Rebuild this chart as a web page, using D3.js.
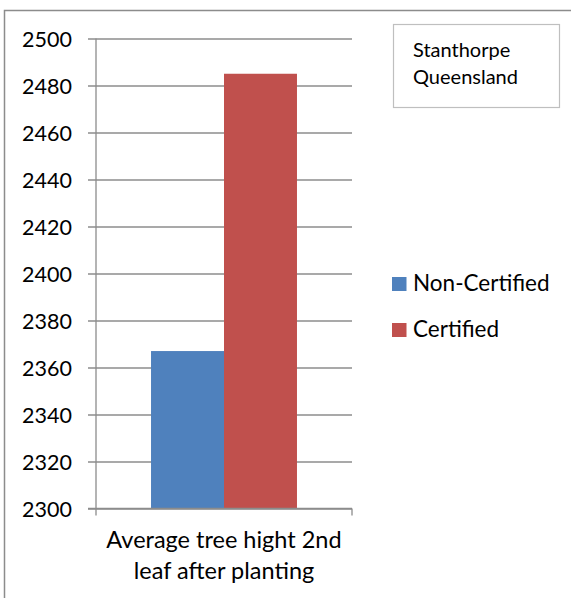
<!DOCTYPE html>
<html><head><meta charset="utf-8">
<script src="https://cdn.jsdelivr.net/npm/d3@7"></script>
<style>body{margin:0;background:#fff;} svg{display:block;font-family:Lato, "Open Sans", sans-serif;}</style>
</head><body>
<svg id="c" width="571" height="598"></svg>
<script>
const categories = ["Average tree hight 2nd leaf after planting"];
const categoryLines = ["Average tree hight 2nd", "leaf after planting"];
const seriesNames = ["Non-Certified", "Certified"];
const nonCertified = [2367];
const certified = [2485];
const yTicks = [2300, 2320, 2340, 2360, 2380, 2400, 2420, 2440, 2460, 2480, 2500];
const colors = ["#4F81BD", "#C0504D"];
const noteLines = ["Stanthorpe", "Queensland"];

const svg = d3.select("#c");
// outer chart border
svg.append("rect").attr("x",4.5).attr("y",10.5).attr("width",600).attr("height",600)
  .attr("fill","none").attr("stroke","#8c8c8c").attr("stroke-width",1.5);

const x0 = 96, x1 = 352;
const y = d3.scaleLinear().domain([2300, 2500]).range([508.5, 38.5]);
const xb = d3.scaleBand().domain(categories).range([x0, x1]).paddingInner(0).paddingOuter(0.377);
const xs = d3.scaleBand().domain(seriesNames).range([0, xb.bandwidth()]);

// gridlines + y axis via d3 axis
const yAxis = d3.axisLeft(y).tickValues(yTicks).tickFormat(d3.format("d")).tickSize(-(x1 - x0)).tickPadding(24);
const gy = svg.append("g").attr("transform", `translate(${x0},0)`).call(yAxis);
gy.select(".domain").remove();
gy.selectAll(".tick line").attr("stroke","#8c8c8c").attr("stroke-width",1.3).attr("x1",-8);
gy.selectAll(".tick text").attr("font-size",21.5).attr("fill","#000").attr("font-family","Lato").attr("dy","0.36em");

// bars
const data = [{s:seriesNames[0], v:nonCertified[0], c:categories[0]}, {s:seriesNames[1], v:certified[0], c:categories[0]}];
svg.selectAll("rect.bar").data(data).enter().append("rect").attr("class","bar")
  .attr("x", d => xb(d.c) + xs(d.s)).attr("width", xs.bandwidth())
  .attr("y", d => y(d.v)).attr("height", d => y(2300) - y(d.v))
  .attr("fill", (d,i) => colors[i]);

// axis lines
svg.append("line").attr("x1",x0).attr("x2",x0).attr("y1",y(2500)).attr("y2",y(2300)+7).attr("stroke","#8c8c8c").attr("stroke-width",1.3);
svg.append("line").attr("x1",x0-8).attr("x2",x1).attr("y1",y(2300)).attr("y2",y(2300)).attr("stroke","#8c8c8c").attr("stroke-width",1.3);
svg.append("line").attr("x1",x1).attr("x2",x1).attr("y1",y(2300)).attr("y2",y(2300)+7).attr("stroke","#8c8c8c").attr("stroke-width",1.3);

// category label
const cx = xb(categories[0]) + xb.bandwidth()/2;
svg.append("text").attr("x", cx).attr("text-anchor","middle").attr("font-size",23.5).attr("fill","#000")
  .selectAll("tspan").data(categoryLines).enter().append("tspan")
  .attr("x", cx).attr("y", (d,i) => 548 + i*31).text(d => d);

// legend
const lg = svg.append("g");
seriesNames.forEach((n,i) => {
  lg.append("rect").attr("x",392).attr("y",277 + i*46).attr("width",14.5).attr("height",14).attr("fill",colors[i]);
  lg.append("text").attr("x",413).attr("y",291 + i*46).attr("font-size",22.5).attr("fill","#000").text(n);
});

// note box
svg.append("rect").attr("x",393.5).attr("y",24.5).attr("width",166).attr("height",83)
  .attr("fill","#fff").attr("stroke","#bfbfbf").attr("stroke-width",1.2);
svg.append("text").attr("font-size",20).attr("fill","#000")
  .selectAll("tspan").data(noteLines).enter().append("tspan")
  .attr("x",413).attr("y",(d,i) => 57 + i*26.5).text(d => d);
</script>
</body></html>
